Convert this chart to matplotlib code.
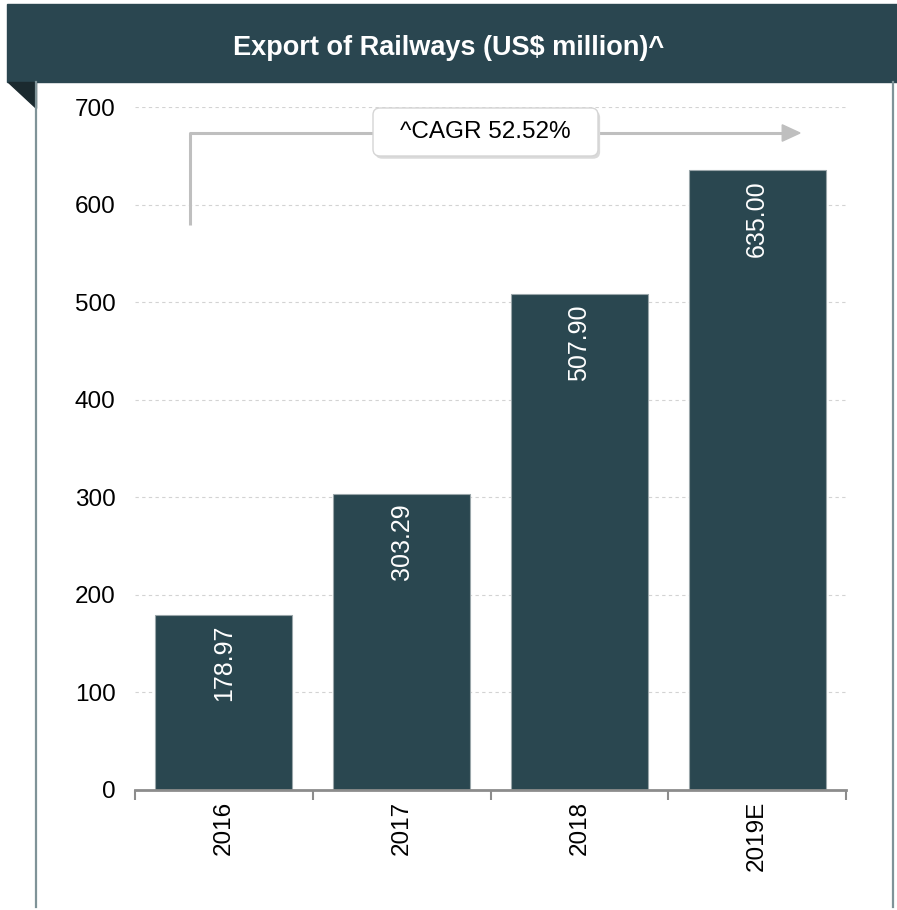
"""Export of Railways (US$ million) bar chart with CAGR arrow."""
import matplotlib
matplotlib.use("Agg")
import numpy as np
import matplotlib.pyplot as plt
from matplotlib.patches import Rectangle, Polygon, FancyBboxPatch
from matplotlib.lines import Line2D

years = ["2016", "2017", "2018", "2019E"]
exports = [178.97, 303.29, 507.90, 635.00]
y_ticks = [0, 100, 200, 300, 400, 500, 600, 700]
title = "Export of Railways (US$ million)^"
cagr_label = "^CAGR 52.52%"

BAR = "#2A4750"
HEADER = "#2A4650"
FOLD = "#1B2A2F"
GRAY = "#8C8C8C"
ARROW = "#BFBFBF"

plt.rcParams["font.family"] = ["Liberation Sans", "DejaVu Sans"]

W, H = 897, 910
fig = plt.figure(figsize=(W / 100, H / 100), dpi=100)


def fx(px):
    return px / W


def fy(py):
    return 1 - py / H


# header band, fold triangle and side borders
fig.patches.append(Rectangle((fx(7), fy(82)), fx(890), 78 / H, transform=fig.transFigure,
                             color=HEADER, zorder=0))
fig.patches.append(Polygon([(fx(8), fy(82)), (fx(36), fy(82)), (fx(36), fy(108))],
                           closed=True, transform=fig.transFigure, color=FOLD, zorder=0))
for x in (36, 893):
    fig.lines.append(Line2D([fx(x), fx(x)], [fy(82), fy(907)], transform=fig.transFigure,
                            color="#7F9398", lw=1.6))
fig.text(0.5, fy(48), title, color="white", fontsize=19.5, fontweight="bold",
         ha="center", va="center")

ax = fig.add_axes([fx(135), fy(790), fx(846 - 135), (790 - 107) / H])
x = np.arange(len(years))
bars = ax.bar(x, exports, width=0.77, color=BAR, edgecolor="#9AA6AA", linewidth=0.8, zorder=2)

ax.set_xlim(-0.5, len(years) - 0.5)
ax.set_ylim(0, 700)
ax.set_yticks(y_ticks)
ax.set_yticklabels([str(v) for v in y_ticks], fontsize=17.5)
ax.tick_params(axis="y", length=0, pad=14)
ax.set_xticks(x)
ax.set_xticklabels(years, rotation=90, fontsize=17.5)
ax.set_xticks(np.arange(len(years) + 1) - 0.5, minor=True)
ax.tick_params(axis="x", which="major", length=0, pad=8)
ax.tick_params(axis="x", which="minor", length=7, width=1.5, color=GRAY, direction="out")

for side in ("top", "right", "left"):
    ax.spines[side].set_visible(False)
ax.spines["bottom"].set_color(GRAY)
ax.spines["bottom"].set_linewidth(2)
ax.yaxis.grid(True, linestyle=(0, (3, 3)), color="#D3D3D3", linewidth=0.8, zorder=0)
ax.set_axisbelow(True)

# value labels inside the bar tops
for rect, val in zip(bars, exports):
    ax.annotate(f"{val:.2f}", (rect.get_x() + rect.get_width() / 2, val),
                xytext=(0, -7), textcoords="offset points", rotation=90,
                ha="center", va="top", color="white", fontsize=18, zorder=3)

# CAGR elbow arrow (axes fraction coordinates)
y_line = (790 - 133) / (790 - 107)
y_low = (790 - 225) / (790 - 107)
x_start = (190 - 135) / (846 - 135)
x_end = (800 - 135) / (846 - 135)
ax.plot([x_start, x_start, x_end - 0.02], [y_low, y_line, y_line], color=ARROW, lw=2.2,
        transform=ax.transAxes, clip_on=False, solid_capstyle="butt", zorder=4)
ax.add_patch(Polygon([(x_end - 0.025, y_line + 0.012), (x_end, y_line),
                      (x_end - 0.025, y_line - 0.012)], closed=True, color=ARROW,
                     transform=ax.transAxes, clip_on=False, zorder=4))

bx0, bx1 = (373 - 135) / (846 - 135), (598 - 135) / (846 - 135)
by0, by1 = (790 - 156) / (790 - 107), (790 - 108) / (790 - 107)
shadow = FancyBboxPatch((bx0 + 0.003, by0 - 0.004), bx1 - bx0, by1 - by0,
                        boxstyle="round,pad=0,rounding_size=0.01", transform=ax.transAxes,
                        facecolor="#DADADA", edgecolor="none", clip_on=False, zorder=5)
box = FancyBboxPatch((bx0, by0), bx1 - bx0, by1 - by0,
                     boxstyle="round,pad=0,rounding_size=0.01", transform=ax.transAxes,
                     facecolor="white", edgecolor="#D5D5D5", lw=1, clip_on=False, zorder=6)
ax.add_patch(shadow)
ax.add_patch(box)
ax.text((bx0 + bx1) / 2, (by0 + by1) / 2, cagr_label, transform=ax.transAxes,
        ha="center", va="center", fontsize=17.5, zorder=7)

fig.savefig("out.png", dpi=100)
